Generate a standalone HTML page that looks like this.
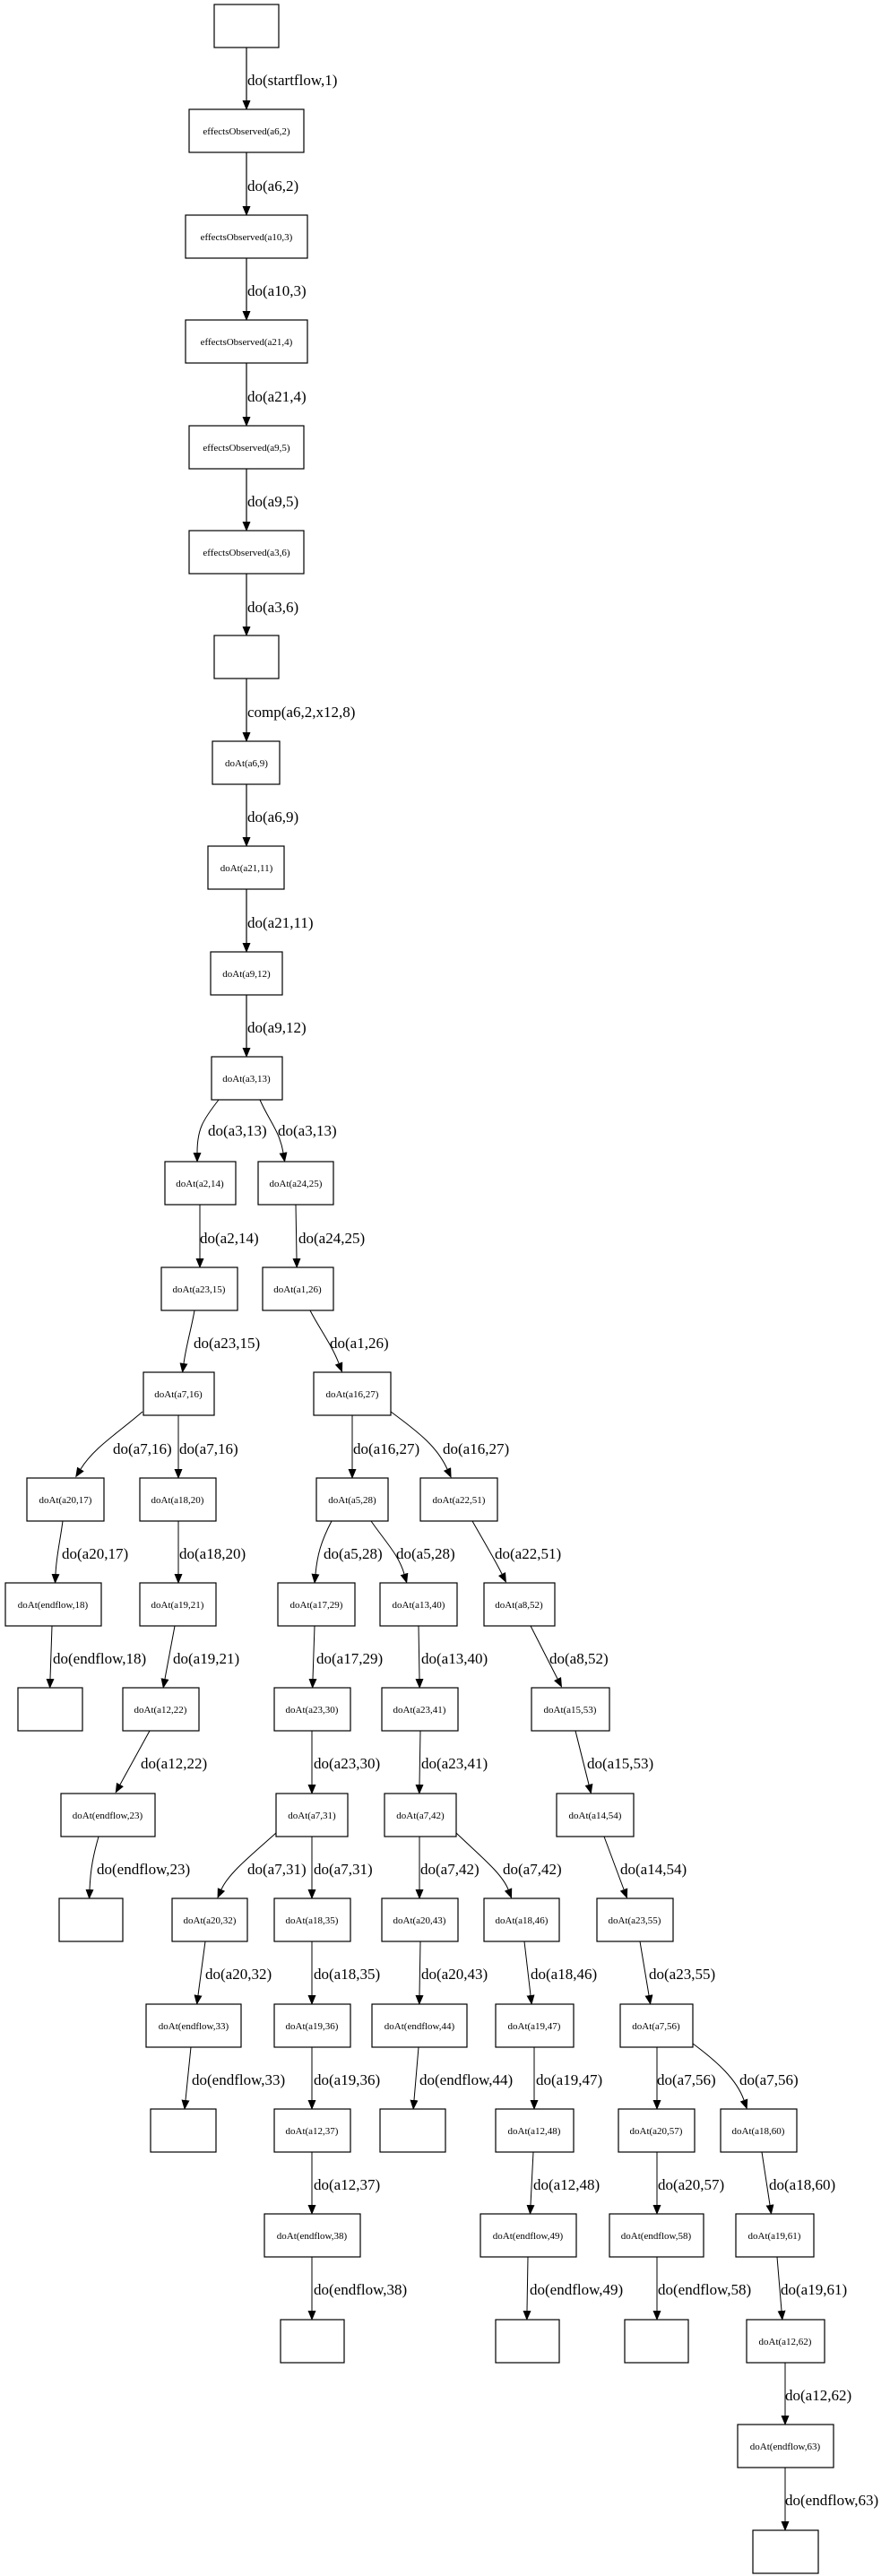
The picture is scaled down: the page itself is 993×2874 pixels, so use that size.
<!DOCTYPE html>
<html><head><meta charset="utf-8"><style>
html,body{margin:0;padding:0;background:#fff}
svg{display:block}
rect{fill:#fff;stroke:#000;stroke-width:1.2}
.n{font-family:"Liberation Serif",serif;font-size:11px;text-anchor:middle}
.lb{font-family:"Liberation Serif",serif;font-size:17px}
.l{font-family:"Liberation Serif",serif;font-size:17px}
path{fill:none;stroke:#000;stroke-width:1}
.t path{stroke-width:1.2}
</style></head><body>
<svg width="993" height="2874" viewBox="0 0 993 2874" xmlns="http://www.w3.org/2000/svg">
<defs>
<marker id="a" markerUnits="userSpaceOnUse" markerWidth="12" markerHeight="10" refX="0" refY="4.5" orient="auto"><path d="M0,0 L11,4.5 L0,9 z" style="fill:#000;stroke:none"/></marker>
</defs>
<g class="t">
<path d="M275,53 L275,112" marker-end="url(#a)"/>
<path d="M275,170 L275,230" marker-end="url(#a)"/>
<path d="M275,288 L275,347" marker-end="url(#a)"/>
<path d="M275,405 L275,465" marker-end="url(#a)"/>
<path d="M275,523 L275,582" marker-end="url(#a)"/>
<path d="M275,640 L275,699" marker-end="url(#a)"/>
<path d="M275,757 L275,817" marker-end="url(#a)"/>
<path d="M275,875 L275,934" marker-end="url(#a)"/>
<path d="M275,992 L275,1052" marker-end="url(#a)"/>
<path d="M275,1110 L275,1169" marker-end="url(#a)"/>
</g>
<g>
<path d="M244,1227 C226,1250 220,1260 220,1286" marker-end="url(#a)"/>
<path d="M290,1227 C300,1250 312,1262 316,1286" marker-end="url(#a)"/>
<path d="M223,1344 L223,1404" marker-end="url(#a)"/>
<path d="M330,1344 L331,1404" marker-end="url(#a)"/>
<path d="M217,1462 C214,1480 208,1500 205,1521" marker-end="url(#a)"/>
<path d="M346,1462 C355,1480 370,1500 378,1521" marker-end="url(#a)"/>
<path d="M159,1575 C130,1600 105,1615 90,1639" marker-end="url(#a)"/>
<path d="M199,1579 L199,1639" marker-end="url(#a)"/>
<path d="M393,1579 L393,1639" marker-end="url(#a)"/>
<path d="M436,1575 C470,1600 488,1615 499,1639" marker-end="url(#a)"/>
<path d="M70,1697 C67,1720 63,1735 62,1756" marker-end="url(#a)"/>
<path d="M199,1697 L199,1756" marker-end="url(#a)"/>
<path d="M370,1697 C358,1720 354,1735 352,1756" marker-end="url(#a)"/>
<path d="M414,1697 C430,1720 445,1735 451,1756" marker-end="url(#a)"/>
<path d="M527,1697 C540,1720 552,1740 560,1756" marker-end="url(#a)"/>
<path d="M58,1814 L56,1873" marker-end="url(#a)"/>
<path d="M195,1814 L184,1873" marker-end="url(#a)"/>
<path d="M351,1814 L349,1873" marker-end="url(#a)"/>
<path d="M467,1814 L468,1873" marker-end="url(#a)"/>
<path d="M592,1814 L622,1873" marker-end="url(#a)"/>
<path d="M167,1931 L134,1991" marker-end="url(#a)"/>
<path d="M348,1931 L348,1991" marker-end="url(#a)"/>
<path d="M469,1931 L468,1991" marker-end="url(#a)"/>
<path d="M642,1931 L657,1991" marker-end="url(#a)"/>
<path d="M110,2049 C104,2070 101,2085 100,2108" marker-end="url(#a)"/>
<path d="M308,2045 C280,2070 255,2090 247,2108" marker-end="url(#a)"/>
<path d="M348,2049 L348,2108" marker-end="url(#a)"/>
<path d="M468,2049 L468,2108" marker-end="url(#a)"/>
<path d="M509,2045 C535,2070 560,2090 567,2108" marker-end="url(#a)"/>
<path d="M674,2049 L696,2108" marker-end="url(#a)"/>
<path d="M229,2166 L221,2226" marker-end="url(#a)"/>
<path d="M348,2166 L348,2226" marker-end="url(#a)"/>
<path d="M469,2166 L468,2226" marker-end="url(#a)"/>
<path d="M585,2166 L592,2226" marker-end="url(#a)"/>
<path d="M714,2166 L724,2226" marker-end="url(#a)"/>
<path d="M213,2284 L207,2343" marker-end="url(#a)"/>
<path d="M348,2284 L348,2343" marker-end="url(#a)"/>
<path d="M467,2284 L462,2343" marker-end="url(#a)"/>
<path d="M596,2284 L596,2343" marker-end="url(#a)"/>
<path d="M733,2284 L733,2343" marker-end="url(#a)"/>
<path d="M773,2280 C800,2300 822,2320 830,2343" marker-end="url(#a)"/>
<path d="M348,2401 L348,2460" marker-end="url(#a)"/>
<path d="M595,2401 L592,2460" marker-end="url(#a)"/>
<path d="M733,2401 L733,2460" marker-end="url(#a)"/>
<path d="M850,2401 L859,2460" marker-end="url(#a)"/>
<path d="M348,2518 L348,2578" marker-end="url(#a)"/>
<path d="M589,2518 L588,2578" marker-end="url(#a)"/>
<path d="M733,2518 L733,2578" marker-end="url(#a)"/>
<path d="M867,2518 L872,2578" marker-end="url(#a)"/>
<path d="M876,2636 L876,2695" marker-end="url(#a)"/>
<path d="M876,2753 L876,2813" marker-end="url(#a)"/>
</g>

<rect x="239" y="5" width="72" height="48"/>
<rect x="211" y="122" width="128" height="48"/><text class="n" x="275" y="150">effectsObserved(a6,2)</text>
<rect x="207" y="240" width="136" height="48"/><text class="n" x="275" y="268">effectsObserved(a10,3)</text>
<rect x="207" y="357" width="136" height="48"/><text class="n" x="275" y="385">effectsObserved(a21,4)</text>
<rect x="211" y="475" width="128" height="48"/><text class="n" x="275" y="503">effectsObserved(a9,5)</text>
<rect x="211" y="592" width="128" height="48"/><text class="n" x="275" y="620">effectsObserved(a3,6)</text>
<rect x="239" y="709" width="72" height="48"/>
<rect x="237" y="827" width="75" height="48"/><text class="n" x="275" y="855">doAt(a6,9)</text>
<rect x="232" y="944" width="85" height="48"/><text class="n" x="275" y="972">doAt(a21,11)</text>
<rect x="235" y="1062" width="80" height="48"/><text class="n" x="275" y="1090">doAt(a9,12)</text>
<rect x="236" y="1179" width="79" height="48"/><text class="n" x="275" y="1207">doAt(a3,13)</text>

<rect x="184" y="1296" width="79" height="48"/><text class="n" x="223" y="1324">doAt(a2,14)</text>
<rect x="288" y="1296" width="84" height="48"/><text class="n" x="330" y="1324">doAt(a24,25)</text>
<rect x="180" y="1414" width="85" height="48"/><text class="n" x="222" y="1442">doAt(a23,15)</text>
<rect x="293" y="1414" width="79" height="48"/><text class="n" x="332" y="1442">doAt(a1,26)</text>
<rect x="160" y="1531" width="79" height="48"/><text class="n" x="199" y="1559">doAt(a7,16)</text>
<rect x="350" y="1531" width="86" height="48"/><text class="n" x="393" y="1559">doAt(a16,27)</text>
<rect x="30" y="1649" width="86" height="48"/><text class="n" x="73" y="1677">doAt(a20,17)</text>
<rect x="156" y="1649" width="85" height="48"/><text class="n" x="198" y="1677">doAt(a18,20)</text>
<rect x="353" y="1649" width="80" height="48"/><text class="n" x="393" y="1677">doAt(a5,28)</text>
<rect x="469" y="1649" width="86" height="48"/><text class="n" x="512" y="1677">doAt(a22,51)</text>
<rect x="6" y="1766" width="107" height="48"/><text class="n" x="59" y="1794">doAt(endflow,18)</text>
<rect x="156" y="1766" width="85" height="48"/><text class="n" x="198" y="1794">doAt(a19,21)</text>
<rect x="310" y="1766" width="86" height="48"/><text class="n" x="353" y="1794">doAt(a17,29)</text>
<rect x="424" y="1766" width="86" height="48"/><text class="n" x="467" y="1794">doAt(a13,40)</text>
<rect x="540" y="1766" width="79" height="48"/><text class="n" x="579" y="1794">doAt(a8,52)</text>
<rect x="20" y="1883" width="72" height="48"/>
<rect x="137" y="1883" width="85" height="48"/><text class="n" x="179" y="1911">doAt(a12,22)</text>
<rect x="306" y="1883" width="85" height="48"/><text class="n" x="348" y="1911">doAt(a23,30)</text>
<rect x="426" y="1883" width="85" height="48"/><text class="n" x="468" y="1911">doAt(a23,41)</text>
<rect x="593" y="1883" width="87" height="48"/><text class="n" x="636" y="1911">doAt(a15,53)</text>
<rect x="68" y="2001" width="105" height="48"/><text class="n" x="120" y="2029">doAt(endflow,23)</text>
<rect x="308" y="2001" width="80" height="48"/><text class="n" x="348" y="2029">doAt(a7,31)</text>
<rect x="429" y="2001" width="80" height="48"/><text class="n" x="469" y="2029">doAt(a7,42)</text>
<rect x="621" y="2001" width="86" height="48"/><text class="n" x="664" y="2029">doAt(a14,54)</text>
<rect x="66" y="2118" width="71" height="48"/>
<rect x="192" y="2118" width="84" height="48"/><text class="n" x="234" y="2146">doAt(a20,32)</text>
<rect x="306" y="2118" width="85" height="48"/><text class="n" x="348" y="2146">doAt(a18,35)</text>
<rect x="426" y="2118" width="85" height="48"/><text class="n" x="468" y="2146">doAt(a20,43)</text>
<rect x="540" y="2118" width="84" height="48"/><text class="n" x="582" y="2146">doAt(a18,46)</text>
<rect x="666" y="2118" width="85" height="48"/><text class="n" x="708" y="2146">doAt(a23,55)</text>
<rect x="163" y="2236" width="106" height="48"/><text class="n" x="216" y="2264">doAt(endflow,33)</text>
<rect x="306" y="2236" width="85" height="48"/><text class="n" x="348" y="2264">doAt(a19,36)</text>
<rect x="415" y="2236" width="106" height="48"/><text class="n" x="468" y="2264">doAt(endflow,44)</text>
<rect x="553" y="2236" width="87" height="48"/><text class="n" x="596" y="2264">doAt(a19,47)</text>
<rect x="692" y="2236" width="81" height="48"/><text class="n" x="732" y="2264">doAt(a7,56)</text>
<rect x="168" y="2353" width="73" height="48"/>
<rect x="306" y="2353" width="85" height="48"/><text class="n" x="348" y="2381">doAt(a12,37)</text>
<rect x="424" y="2353" width="73" height="48"/>
<rect x="553" y="2353" width="87" height="48"/><text class="n" x="596" y="2381">doAt(a12,48)</text>
<rect x="690" y="2353" width="85" height="48"/><text class="n" x="732" y="2381">doAt(a20,57)</text>
<rect x="804" y="2353" width="85" height="48"/><text class="n" x="846" y="2381">doAt(a18,60)</text>
<rect x="295" y="2470" width="107" height="48"/><text class="n" x="348" y="2498">doAt(endflow,38)</text>
<rect x="536" y="2470" width="107" height="48"/><text class="n" x="589" y="2498">doAt(endflow,49)</text>
<rect x="680" y="2470" width="105" height="48"/><text class="n" x="732" y="2498">doAt(endflow,58)</text>
<rect x="821" y="2470" width="87" height="48"/><text class="n" x="864" y="2498">doAt(a19,61)</text>
<rect x="313" y="2588" width="71" height="48"/>
<rect x="553" y="2588" width="71" height="48"/>
<rect x="697" y="2588" width="71" height="48"/>
<rect x="833" y="2588" width="87" height="48"/><text class="n" x="876" y="2616">doAt(a12,62)</text>
<rect x="823" y="2705" width="107" height="48"/><text class="n" x="876" y="2733">doAt(endflow,63)</text>
<rect x="840" y="2823" width="73" height="48"/>

<text class="lb" x="276" y="95">do(startflow,1)</text>
<text class="lb" x="276" y="213">do(a6,2)</text>
<text class="lb" x="276" y="330">do(a10,3)</text>
<text class="lb" x="276" y="448">do(a21,4)</text>
<text class="lb" x="276" y="565">do(a9,5)</text>
<text class="lb" x="276" y="683">do(a3,6)</text>
<text class="lb" x="276" y="800">comp(a6,2,x12,8)</text>
<text class="lb" x="276" y="917">do(a6,9)</text>
<text class="lb" x="276" y="1035">do(a21,11)</text>
<text class="lb" x="276" y="1152">do(a9,12)</text>

<text class="l" x="232" y="1267">do(a3,13)</text>
<text class="l" x="310" y="1267">do(a3,13)</text>
<text class="l" x="223" y="1387">do(a2,14)</text>
<text class="l" x="333" y="1387">do(a24,25)</text>
<text class="l" x="216" y="1504">do(a23,15)</text>
<text class="l" x="368" y="1504">do(a1,26)</text>
<text class="l" x="126" y="1622">do(a7,16)</text>
<text class="l" x="200" y="1622">do(a7,16)</text>
<text class="l" x="394" y="1622">do(a16,27)</text>
<text class="l" x="494" y="1622">do(a16,27)</text>
<text class="l" x="69" y="1739">do(a20,17)</text>
<text class="l" x="200" y="1739">do(a18,20)</text>
<text class="l" x="361" y="1739">do(a5,28)</text>
<text class="l" x="442" y="1739">do(a5,28)</text>
<text class="l" x="552" y="1739">do(a22,51)</text>
<text class="l" x="59" y="1856">do(endflow,18)</text>
<text class="l" x="193" y="1856">do(a19,21)</text>
<text class="l" x="353" y="1856">do(a17,29)</text>
<text class="l" x="470" y="1856">do(a13,40)</text>
<text class="l" x="613" y="1856">do(a8,52)</text>
<text class="l" x="157" y="1973">do(a12,22)</text>
<text class="l" x="350" y="1973">do(a23,30)</text>
<text class="l" x="470" y="1973">do(a23,41)</text>
<text class="l" x="655" y="1973">do(a15,53)</text>
<text class="l" x="108" y="2091">do(endflow,23)</text>
<text class="l" x="276" y="2091">do(a7,31)</text>
<text class="l" x="350" y="2091">do(a7,31)</text>
<text class="l" x="469" y="2091">do(a7,42)</text>
<text class="l" x="561" y="2091">do(a7,42)</text>
<text class="l" x="692" y="2091">do(a14,54)</text>
<text class="l" x="229" y="2208">do(a20,32)</text>
<text class="l" x="350" y="2208">do(a18,35)</text>
<text class="l" x="470" y="2208">do(a20,43)</text>
<text class="l" x="592" y="2208">do(a18,46)</text>
<text class="l" x="724" y="2208">do(a23,55)</text>
<text class="l" x="214" y="2326">do(endflow,33)</text>
<text class="l" x="350" y="2326">do(a19,36)</text>
<text class="l" x="468" y="2326">do(endflow,44)</text>
<text class="l" x="598" y="2326">do(a19,47)</text>
<text class="l" x="733" y="2326">do(a7,56)</text>
<text class="l" x="825" y="2326">do(a7,56)</text>
<text class="l" x="350" y="2443">do(a12,37)</text>
<text class="l" x="595" y="2443">do(a12,48)</text>
<text class="l" x="734" y="2443">do(a20,57)</text>
<text class="l" x="858" y="2443">do(a18,60)</text>
<text class="l" x="350" y="2560">do(endflow,38)</text>
<text class="l" x="591" y="2560">do(endflow,49)</text>
<text class="l" x="734" y="2560">do(endflow,58)</text>
<text class="l" x="871" y="2560">do(a19,61)</text>
<text class="l" x="876" y="2678">do(a12,62)</text>
<text class="l" x="876" y="2795">do(endflow,63)</text>
</svg>
</body></html>
